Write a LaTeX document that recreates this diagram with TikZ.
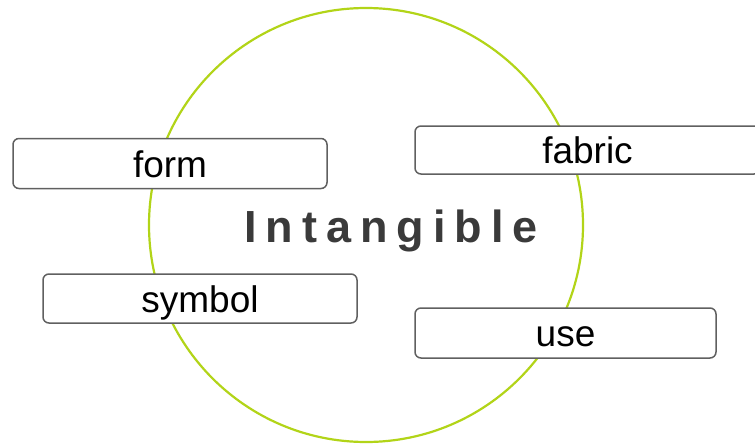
\documentclass[tikz,border=0pt]{standalone}
\usepackage{fontspec}
\setmainfont{Liberation Sans}
\newfontfamily\titlefont[LetterSpace=20]{Liberation Sans Bold}

\definecolor{ringgreen}{RGB}{178,212,24}
\definecolor{boxgray}{RGB}{96,96,96}
\definecolor{titlegray}{RGB}{58,58,58}

\begin{document}
\begin{tikzpicture}[x=1pt, y=-1pt,
    wordbox/.style={draw=boxgray, line width=1.5pt, fill=white,
      rounded corners=6pt, inner sep=0pt, minimum height=50pt,
      text height=27pt, text depth=0pt,
      font=\fontsize{37}{40}\selectfont}]
  \useasboundingbox (0, 0) rectangle (755, 444);

  % Ring
  \draw[ringgreen, line width=2.2pt] (366, 225) circle (217pt);

  % Centre word
  \node[anchor=base, text=titlegray, font=\titlefont\fontsize{45}{48}\selectfont]
    (intangible) at (391, 242) {Intangible};

  % Boxes round the ring
  \node[wordbox, minimum width=314pt] (form)   at (170,   163.5) {form};
  \node[wordbox, minimum width=345pt, minimum height=48pt]
                                      (fabric) at (587.5, 150)   {fabric};
  \node[wordbox, minimum width=314pt, minimum height=49pt]
                                      (symbol) at (200,   298.5) {symbol};
  \node[wordbox, minimum width=301pt] (use)    at (565.5, 333)   {use};
\end{tikzpicture}
\end{document}
